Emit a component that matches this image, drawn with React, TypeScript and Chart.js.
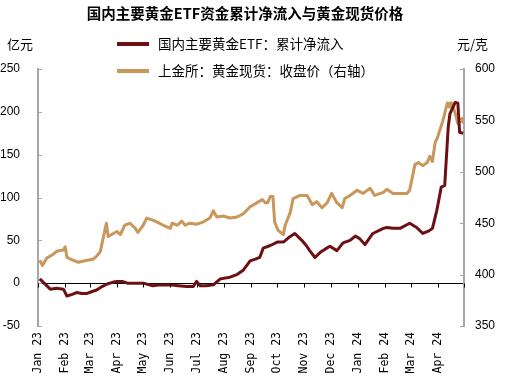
import React, { useEffect, useRef } from 'react';
import { Chart, registerables } from 'chart.js';

Chart.register(...registerables);

const titleText = '国内主要黄金ETF资金累计净流入与黄金现货价格';
const etfLabel = '国内主要黄金ETF：累计净流入';
const goldLabel = '上金所：黄金现货：收盘价（右轴）';
const leftUnit = '亿元';
const rightUnit = '元/克';

const monthStarts = [
  '2023-01-01', '2023-02-01', '2023-03-01', '2023-04-01', '2023-05-01', '2023-06-01',
  '2023-07-01', '2023-08-01', '2023-09-01', '2023-10-01', '2023-11-01', '2023-12-01',
  '2024-01-01', '2024-02-01', '2024-03-01', '2024-04-01', '2024-05-01',
];
const monthLabels = [
  'Jan 23', 'Feb 23', 'Mar 23', 'Apr 23', 'May 23', 'Jun 23', 'Jul 23', 'Aug 23',
  'Sep 23', 'Oct 23', 'Nov 23', 'Dec 23', 'Jan 24', 'Feb 24', 'Mar 24', 'Apr 24',
];

const etfDates = [
  '2023-01-03', '2023-01-08', '2023-01-15', '2023-01-22', '2023-01-30', '2023-02-03',
  '2023-02-09', '2023-02-14', '2023-02-20', '2023-02-26', '2023-03-03', '2023-03-09',
  '2023-03-15', '2023-03-21', '2023-03-27', '2023-04-01', '2023-04-07', '2023-04-13',
  '2023-04-20', '2023-05-01', '2023-05-12', '2023-05-20', '2023-06-01', '2023-06-10',
  '2023-06-20', '2023-06-27', '2023-07-01', '2023-07-05', '2023-07-12', '2023-07-20',
  '2023-07-28', '2023-08-08', '2023-08-16', '2023-08-23', '2023-08-31', '2023-09-06',
  '2023-09-11', '2023-09-15', '2023-09-23', '2023-10-01', '2023-10-08', '2023-10-15',
  '2023-10-21', '2023-10-29', '2023-11-03', '2023-11-07', '2023-11-13', '2023-11-19',
  '2023-11-25', '2023-11-30', '2023-12-08', '2023-12-15', '2023-12-23', '2023-12-29',
  '2024-01-03', '2024-01-09', '2024-01-18', '2024-01-30', '2024-02-03', '2024-02-10',
  '2024-02-18', '2024-02-29', '2024-03-08', '2024-03-15', '2024-03-22', '2024-03-26',
  '2024-03-31', '2024-04-05', '2024-04-09', '2024-04-13', '2024-04-15', '2024-04-21',
  '2024-04-24', '2024-04-26', '2024-04-30',
];
const etfValues = [
  5, 0, -7, -6, -7, -15,
  -13, -11, -12, -12, -10, -8,
  -4, -1, 1, 2, 2, 0,
  0, 0, -3, -2, -2, -3,
  -4, -4, 2, -3, -3, -2,
  5, 7, 10, 15, 26, 28,
  30, 41, 44, 48, 48, 54,
  58, 50, 44, 38, 30, 36,
  40, 43, 38, 47, 50, 55,
  52, 45, 58, 64, 65, 64,
  64, 70, 65, 58, 61, 64,
  85, 112, 114, 182, 198, 211,
  210, 176, 175,
];

const goldDates = [
  '2023-01-03', '2023-01-06', '2023-01-11', '2023-01-17', '2023-01-23', '2023-01-30',
  '2023-02-01', '2023-02-03', '2023-02-07', '2023-02-16', '2023-02-26', '2023-03-05',
  '2023-03-09', '2023-03-13', '2023-03-16', '2023-03-20', '2023-03-22', '2023-03-26',
  '2023-04-01', '2023-04-05', '2023-04-10', '2023-04-16', '2023-04-22', '2023-04-25',
  '2023-05-01', '2023-05-05', '2023-05-12', '2023-05-17', '2023-05-24', '2023-06-01',
  '2023-06-03', '2023-06-09', '2023-06-14', '2023-06-18', '2023-06-23', '2023-07-01',
  '2023-07-08', '2023-07-16', '2023-07-20', '2023-07-24', '2023-07-31', '2023-08-08',
  '2023-08-16', '2023-08-23', '2023-08-31', '2023-09-08', '2023-09-14', '2023-09-17',
  '2023-09-20', '2023-09-23', '2023-09-26', '2023-09-28', '2023-10-02', '2023-10-08',
  '2023-10-10', '2023-10-16', '2023-10-19', '2023-10-27', '2023-11-04', '2023-11-10',
  '2023-11-15', '2023-11-21', '2023-11-27', '2023-12-02', '2023-12-08', '2023-12-14',
  '2023-12-17', '2023-12-23', '2023-12-31', '2024-01-07', '2024-01-15', '2024-01-20',
  '2024-01-30', '2024-02-03', '2024-02-10', '2024-02-26', '2024-02-29', '2024-03-06',
  '2024-03-10', '2024-03-15', '2024-03-20', '2024-03-23', '2024-03-26', '2024-03-29',
  '2024-04-01', '2024-04-07', '2024-04-12', '2024-04-14', '2024-04-15', '2024-04-17',
  '2024-04-21', '2024-04-23', '2024-04-24', '2024-04-29', '2024-04-30',
];
const goldValues = [
  414, 409, 416, 419, 423, 424,
  427, 417, 415, 412, 414, 415,
  418, 422, 434, 450, 437, 439,
  442, 439, 448, 450, 445, 441,
  448, 455, 453, 451, 448, 445,
  450, 448, 452, 448, 450, 449,
  451, 455, 462, 456, 457, 455,
  456, 459, 466, 470, 473, 470,
  470, 476, 476, 451, 443, 439,
  448, 461, 474, 477, 477, 468,
  471, 465, 470, 479, 470, 465,
  474, 477, 482, 479, 484, 477,
  480, 483, 479, 479, 482, 507,
  509, 506, 509, 515, 510, 528,
  534, 550, 567, 563, 567, 567,
  557, 550, 547, 552, 547,
];

const leftMin = -50;
const leftMax = 250;
const rightMin = 350;
const rightMax = 600;
const tickStep = 50;

const RED = '#6E0F13';
const TAN = '#C9975A';
const AXIS_GREY = '#A6A6A6';

const BASE = Date.UTC(2023, 0, 1);
const toDay = (s: string) => {
  const [y, m, d] = s.split('-').map(Number);
  return (Date.UTC(y, m - 1, d) - BASE) / 86400000;
};

const decorPlugin = {
  id: 'decor',
  afterDraw(chart: any) {
    const ctx = chart.ctx as CanvasRenderingContext2D;
    const { left, right } = chart.chartArea;
    const ys = chart.scales.y;
    const y1 = chart.scales.y1;
    const xs = chart.scales.x;
    ctx.save();
    ctx.lineWidth = 1;
    ctx.strokeStyle = AXIS_GREY;
    ys.ticks.forEach((t: any) => {
      const p = Math.round(ys.getPixelForValue(t.value)) + 0.5;
      ctx.beginPath();
      ctx.moveTo(left, p);
      ctx.lineTo(left + 4, p);
      ctx.stroke();
    });
    y1.ticks.forEach((t: any) => {
      const p = Math.round(y1.getPixelForValue(t.value)) + 0.5;
      ctx.beginPath();
      ctx.moveTo(right - 4, p);
      ctx.lineTo(right, p);
      ctx.stroke();
    });
    const y0 = Math.round(ys.getPixelForValue(0)) + 0.5;
    ctx.strokeStyle = '#000';
    xs.ticks.forEach((t: any) => {
      const p = Math.round(xs.getPixelForValue(t.value)) + 0.5;
      ctx.beginPath();
      ctx.moveTo(p, y0);
      ctx.lineTo(p, y0 + 4);
      ctx.stroke();
    });

    // title
    ctx.fillStyle = '#000';
    ctx.textBaseline = 'middle';
    ctx.textAlign = 'center';
    ctx.font = 'bold 14.5px "Noto Sans CJK SC"';
    ctx.fillText(titleText, 245, 13);

    // units
    ctx.font = '13px "Noto Sans CJK SC"';
    ctx.textAlign = 'left';
    ctx.fillText(leftUnit, 7, 44);
    ctx.fillText(rightUnit, 457, 44);

    // legend
    const rows: [string, string, number][] = [
      [etfLabel, RED, 44],
      [goldLabel, TAN, 71],
    ];
    rows.forEach(([label, color, yy]) => {
      ctx.strokeStyle = color;
      ctx.lineWidth = 4;
      ctx.beginPath();
      ctx.moveTo(117, yy);
      ctx.lineTo(149, yy);
      ctx.stroke();
      ctx.fillStyle = '#000';
      ctx.font = '13.5px "Noto Sans CJK SC"';
      ctx.fillText(label, 158, yy);
    });
    ctx.restore();
  },
};

export default function App() {
  const ref = useRef<HTMLCanvasElement | null>(null);

  useEffect(() => {
    if (!ref.current) return;
    const chart = new Chart(ref.current, {
      type: 'line',
      data: {
        datasets: [
          {
            label: etfLabel,
            data: etfDates.map((d, i) => ({ x: toDay(d), y: etfValues[i] })),
            borderColor: RED,
            backgroundColor: RED,
            borderWidth: 3,
            pointRadius: 0,
            tension: 0,
            borderJoinStyle: 'round',
            yAxisID: 'y',
          },
          {
            label: goldLabel,
            data: goldDates.map((d, i) => ({ x: toDay(d), y: goldValues[i] })),
            borderColor: TAN,
            backgroundColor: TAN,
            borderWidth: 3,
            pointRadius: 0,
            tension: 0,
            borderJoinStyle: 'round',
            yAxisID: 'y1',
          },
        ],
      },
      options: {
        responsive: false,
        animation: false,
        layout: { padding: { top: 69, left: 0, right: 0, bottom: 0 } },
        plugins: {
          legend: { display: false },
          title: { display: false },
          tooltip: { enabled: false },
        },
        scales: {
          x: {
            type: 'linear',
            min: toDay(monthStarts[0]),
            max: toDay(monthStarts[monthStarts.length - 1]),
            afterBuildTicks: (scale: any) => {
              scale.ticks = monthStarts.map((d) => ({ value: toDay(d) }));
            },
            afterFit: (scale: any) => {
              scale.height = 57;
            },
            grid: { display: false, drawTicks: false },
            border: { display: false },
            ticks: {
              autoSkip: false,
              minRotation: 90,
              maxRotation: 90,
              padding: 6,
              color: '#000',
              font: { family: '"DejaVu Sans Mono"', size: 11.5 },
              callback: (_v: any, i: number) => monthLabels[i] ?? '',
            },
          },
          y: {
            position: 'left',
            min: leftMin,
            max: leftMax,
            afterFit: (scale: any) => {
              scale.width = 38;
            },
            grid: {
              drawTicks: false,
              color: (c: any) => (c.tick && c.tick.value === 0 ? '#000' : 'rgba(0,0,0,0)'),
              lineWidth: 1,
            },
            border: { display: true, color: AXIS_GREY, width: 2 },
            ticks: {
              stepSize: tickStep,
              padding: 18,
              color: '#000',
              font: { family: '"Liberation Sans"', size: 12 },
            },
          },
          y1: {
            position: 'right',
            min: rightMin,
            max: rightMax,
            afterFit: (scale: any) => {
              scale.width = 50;
            },
            grid: { display: false, drawTicks: false },
            border: { display: true, color: AXIS_GREY, width: 2 },
            ticks: {
              stepSize: tickStep,
              padding: 11,
              color: '#000',
              font: { family: '"Liberation Sans"', size: 12 },
            },
          },
        },
      },
      plugins: [decorPlugin],
    });
    return () => chart.destroy();
  }, []);

  return (
    <div style={{ position: 'absolute', left: 0, top: 0, width: 514, height: 383, background: '#fff' }}>
      <canvas ref={ref} width={514} height={383} style={{ display: 'block' }} />
    </div>
  );
}
